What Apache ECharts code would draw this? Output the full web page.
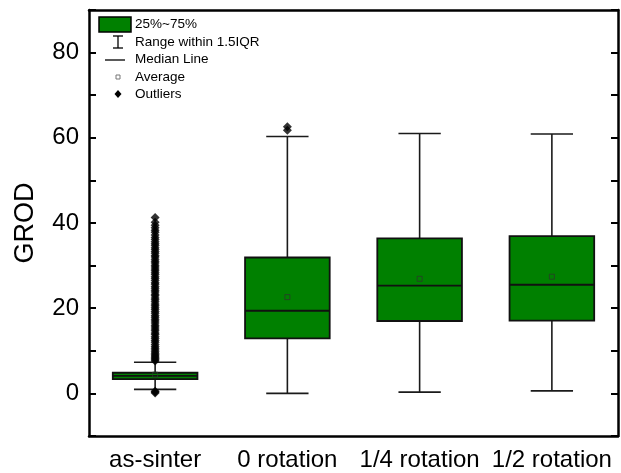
<!DOCTYPE html>
<html><head><meta charset="utf-8">
<script src="https://cdn.jsdelivr.net/npm/echarts@6/dist/echarts.min.js"></script>
<style>html,body{margin:0;padding:0;background:#fff}#c{width:621px;height:473px}</style>
</head><body><div id="c"></div>
<script>
const categories = ['as-sinter', '0 rotation', '1/4 rotation', '1/2 rotation'];
// [lower whisker, Q1, median, Q3, upper whisker]
const boxStats = [
  [0.95, 3.35, 4.1, 4.85, 7.3],
  [0.0, 12.9, 19.4, 31.9, 60.3],
  [0.3, 17.0, 25.3, 36.4, 61.0],
  [0.6, 17.1, 25.5, 36.9, 60.9]
];
const means = [4.4, 22.6, 26.9, 27.4];
const outliersAsSinter = [0.1, 0.3, 0.5, 7.6, 7.9, 8.2, 8.5, 8.8, 9.1, 9.4, 9.8, 10.2, 10.6, 11, 11.5, 12, 12.4, 12.9, 13.3, 13.8, 14.2, 14.7, 15.1, 15.6, 16, 16.5, 17, 17.4, 17.9, 18.3, 18.8, 19.2, 19.7, 20.1, 20.6, 21, 21.5, 22, 22.4, 22.9, 23.3, 23.8, 24.2, 24.7, 25.1, 25.6, 26, 26.5, 27, 27.4, 27.9, 28.3, 28.8, 29.2, 29.7, 30.1, 30.6, 31, 31.5, 32, 32.4, 32.9, 33.3, 33.8, 34.2, 34.7, 35.1, 35.6, 36.1, 36.6, 37.2, 37.8, 38.3, 38.9, 39.5, 40.2, 41.3];
const outliers0Rot = [61.8, 62.6];
const yTicks = [0, 20, 40, 60, 80];

const FONT = '"Liberation Sans", Arial, sans-serif';
const GREEN = '#008000';

const boxData = boxStats.map((s, i) => [i].concat(s));
const outlierData = outliersAsSinter.map(v => [0, v]).concat(outliers0Rot.map(v => [1, v]));
const meanData = means.map((v, i) => [i, v]);

const chart = echarts.init(document.getElementById('c'), null, {renderer: 'canvas'});

function renderBox(params, api) {
  const idx = api.value(0);
  const pLo = api.coord([idx, api.value(1)]);
  const pQ1 = api.coord([idx, api.value(2)]);
  const pMed = api.coord([idx, api.value(3)]);
  const pQ3 = api.coord([idx, api.value(4)]);
  const pHi = api.coord([idx, api.value(5)]);
  const bw = api.size([1, 0])[0] * 0.64;
  const cw = bw * 0.5;
  const cx = pMed[0];
  const lineStyle = {stroke: '#1a1a1a', lineWidth: 1.6, fill: null};
  return {
    type: 'group',
    children: [
      {type: 'line', shape: {x1: cx, y1: pQ3[1], x2: cx, y2: pHi[1]}, style: lineStyle},
      {type: 'line', shape: {x1: cx, y1: pQ1[1], x2: cx, y2: pLo[1]}, style: lineStyle},
      {type: 'line', shape: {x1: cx - cw / 2, y1: pHi[1], x2: cx + cw / 2, y2: pHi[1]}, style: lineStyle},
      {type: 'line', shape: {x1: cx - cw / 2, y1: pLo[1], x2: cx + cw / 2, y2: pLo[1]}, style: lineStyle},
      {type: 'rect', shape: {x: cx - bw / 2, y: pQ3[1], width: bw, height: pQ1[1] - pQ3[1]},
        style: {fill: GREEN, stroke: '#111', lineWidth: 1.8}},
      {type: 'line', shape: {x1: cx - bw / 2, y1: pMed[1], x2: cx + bw / 2, y2: pMed[1]},
        style: {stroke: '#111', lineWidth: 1.8}}
    ]
  };
}

const axisLineStyle = {color: '#000', width: 2.5};

const option = {
  animation: false,
  grid: {left: 89, right: 3, top: 10, bottom: 37, containLabel: false},
  xAxis: [
    {type: 'category', data: categories, position: 'bottom', boundaryGap: true,
      axisLine: {onZero: false, lineStyle: axisLineStyle},
      axisTick: {alignWithLabel: true, inside: true, length: 7, lineStyle: {width: 2, color: '#000'}},
      axisLabel: {color: '#000', fontSize: 24, fontFamily: FONT, margin: 12, interval: 0},
      splitLine: {show: false}},
    {type: 'category', data: categories, position: 'top', boundaryGap: true,
      axisLine: {onZero: false, lineStyle: axisLineStyle},
      axisTick: {alignWithLabel: true, inside: true, length: 7, lineStyle: {width: 2, color: '#000'}},
      axisLabel: {show: false}, splitLine: {show: false}}
  ],
  yAxis: [
    {type: 'value', min: -10, max: 90, interval: 10, position: 'left',
      name: 'GROD', nameLocation: 'middle', nameGap: 50,
      nameTextStyle: {color: '#000', fontSize: 27, fontFamily: FONT},
      axisLine: {show: true, onZero: false, lineStyle: axisLineStyle},
      axisTick: {show: true, inside: true, length: 7, lineStyle: {width: 2, color: '#000'}},
      axisLabel: {color: '#000', fontSize: 24, fontFamily: FONT, margin: 10,
        formatter: v => (yTicks.indexOf(v) >= 0 ? String(v) : '')},
      splitLine: {show: false}},
    {type: 'value', min: -10, max: 90, interval: 10, position: 'right',
      axisLine: {show: true, onZero: false, lineStyle: axisLineStyle},
      axisTick: {show: true, inside: true, length: 7, lineStyle: {width: 2, color: '#000'}},
      axisLabel: {show: false}, splitLine: {show: false}}
  ],
  series: [
    {type: 'custom', renderItem: renderBox, data: boxData, xAxisIndex: 0, yAxisIndex: 0,
      encode: {x: 0, y: [1, 2, 3, 4, 5]}, z: 2},
    {type: 'scatter', data: outlierData, symbol: 'diamond', symbolSize: 9,
      itemStyle: {color: '#000'}, z: 3},
    {type: 'scatter', data: meanData, symbol: 'rect', symbolSize: 5,
      itemStyle: {color: 'rgba(0,0,0,0)', borderColor: '#2a3a2a', borderWidth: 1}, z: 4}
  ],
  graphic: [
    {type: 'rect', shape: {x: 99, y: 17, width: 32, height: 15}, style: {fill: GREEN, stroke: '#000', lineWidth: 1.5}},
    {type: 'text', x: 135, y: 24.5, style: {text: '25%~75%', fill: '#000', fontSize: 13.5, fontFamily: FONT, verticalAlign: 'middle'}},
    {type: 'line', shape: {x1: 118, y1: 36, x2: 118, y2: 48}, style: {stroke: '#000', lineWidth: 1.3}},
    {type: 'line', shape: {x1: 113, y1: 36, x2: 123, y2: 36}, style: {stroke: '#000', lineWidth: 1.3}},
    {type: 'line', shape: {x1: 113, y1: 48, x2: 123, y2: 48}, style: {stroke: '#000', lineWidth: 1.3}},
    {type: 'text', x: 135, y: 42, style: {text: 'Range within 1.5IQR', fill: '#000', fontSize: 13.5, fontFamily: FONT, verticalAlign: 'middle'}},
    {type: 'line', shape: {x1: 105, y1: 60, x2: 125, y2: 60}, style: {stroke: '#000', lineWidth: 1.3}},
    {type: 'text', x: 135, y: 59.5, style: {text: 'Median Line', fill: '#000', fontSize: 13.5, fontFamily: FONT, verticalAlign: 'middle'}},
    {type: 'rect', shape: {x: 116, y: 75, width: 4, height: 4}, style: {fill: '#fff', stroke: '#777', lineWidth: 1}},
    {type: 'text', x: 135, y: 77, style: {text: 'Average', fill: '#000', fontSize: 13.5, fontFamily: FONT, verticalAlign: 'middle'}},
    {type: 'polygon', shape: {points: [[118, 90], [121.5, 94], [118, 98], [114.5, 94]]}, style: {fill: '#000'}},
    {type: 'text', x: 135, y: 94, style: {text: 'Outliers', fill: '#000', fontSize: 13.5, fontFamily: FONT, verticalAlign: 'middle'}}
  ]
};
chart.setOption(option);
</script>
</body></html>
